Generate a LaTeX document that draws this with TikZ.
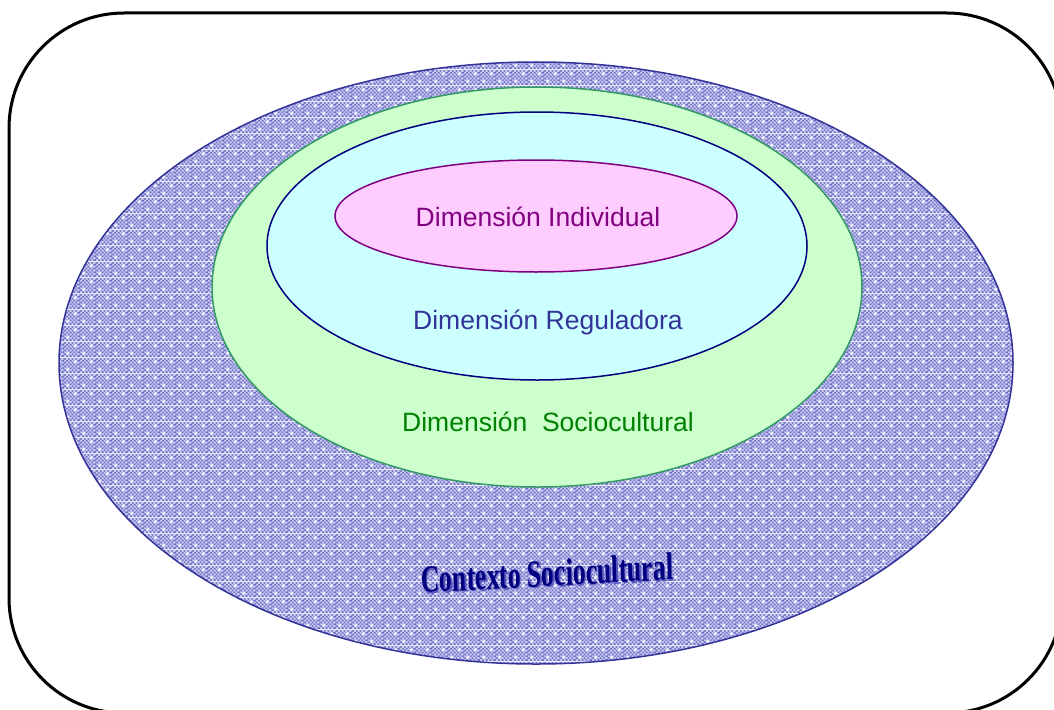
\documentclass[tikz,border=0pt]{standalone}
\usepackage{fontspec}
\setmainfont{Liberation Sans}
\newfontfamily\artfont{Liberation Serif}
\usetikzlibrary{patterns}

\definecolor{framecol}{RGB}{0,0,0}
\definecolor{checkdark}{RGB}{118,118,202}
\definecolor{checklight}{RGB}{204,204,242}
\definecolor{checkdot}{RGB}{248,248,255}
\definecolor{outerline}{RGB}{51,51,153}
\definecolor{socfill}{RGB}{204,255,204}
\definecolor{socline}{RGB}{51,153,102}
\definecolor{socText}{RGB}{0,128,0}
\definecolor{regfill}{RGB}{204,255,255}
\definecolor{regline}{RGB}{0,0,128}
\definecolor{regText}{RGB}{51,51,153}
\definecolor{indfill}{RGB}{255,204,255}
\definecolor{indline}{RGB}{128,0,128}
\definecolor{indText}{RGB}{128,0,128}
\definecolor{ctxText}{RGB}{0,0,128}
\definecolor{ctxShade}{RGB}{90,90,190}

% small blue checkerboard with a lattice of light dots
\pgfdeclarepatterninherentlycolored{bluecheck}
  {\pgfpointorigin}{\pgfpoint{16pt}{16pt}}{\pgfpoint{16pt}{16pt}}
  {%
    \pgfsetfillcolor{checkdark}%
    \pgfpathrectangle{\pgfpointorigin}{\pgfpoint{16pt}{16pt}}%
    \pgfusepath{fill}%
    \pgfsetfillcolor{checklight}%
    \foreach \cx in {0,4,8,12}{%
      \foreach \cy in {0,4,8,12}{%
        \pgfpathrectangle{\pgfpoint{\cx pt}{\cy pt}}{\pgfpoint{2pt}{2pt}}%
        \pgfpathrectangle{\pgfpoint{\cx pt+2pt}{\cy pt+2pt}}{\pgfpoint{2pt}{2pt}}%
      }%
    }%
    \pgfusepath{fill}%
    \pgfsetfillcolor{checkdot}%
    \pgfpathcircle{\pgfpoint{4pt}{4pt}}{1.9pt}%
    \pgfpathcircle{\pgfpoint{12pt}{12pt}}{1.9pt}%
    \pgfusepath{fill}%
  }

\tikzset{
  frame/.style={draw=framecol, line width=3pt, rounded corners=115pt},
  ring/.style={line width=1.5pt},
  dimlabel/.style={font=\fontsize{26.5}{30}\selectfont, inner sep=0pt},
  ctxlabel/.style={font=\artfont\bfseries\fontsize{26.5}{26.5}\selectfont,
                   inner sep=0pt, yscale=1.45, xscale=0.97, rotate=2}
}

\begin{document}
\begin{tikzpicture}[x=1pt, y=-1pt]
  \useasboundingbox (0,0) rectangle (1054,709);

  % outer frame (its right and lower sides run past the page edge)
  \begin{scope}
    \clip (0,0) rectangle (1054,709);
    \draw[frame] (9,13) rectangle (1062,713);
  \end{scope}

  % context ellipse
  \fill[pattern=bluecheck] (536,363) ellipse [x radius=477, y radius=301];
  \draw[ring, draw=outerline] (536,363) ellipse [x radius=477, y radius=301];

  % sociocultural dimension
  \draw[ring, draw=socline, fill=socfill] (537,287) ellipse [x radius=325, y radius=200];

  % regulating dimension
  \draw[ring, draw=regline, fill=regfill] (537,246) ellipse [x radius=270, y radius=134];

  % individual dimension
  \draw[ring, draw=indline, fill=indfill] (536,216) ellipse [x radius=201, y radius=56];

  \node[dimlabel, text=indText] (ind) at (538,217) {Dimensión Individual};
  \node[dimlabel, text=regText] (reg) at (548,322) {Dimensión Reguladora};
  \node[dimlabel, text=socText] (soc) at (548,422) {Dimensión\ \ Sociocultural};

  \node[ctxlabel, text=ctxShade] (ctxshade) at (548.5,574.5) {Contexto Sociocultural};
  \node[ctxlabel, text=ctxText] (ctx) at (547,573) {Contexto Sociocultural};
\end{tikzpicture}
\end{document}
